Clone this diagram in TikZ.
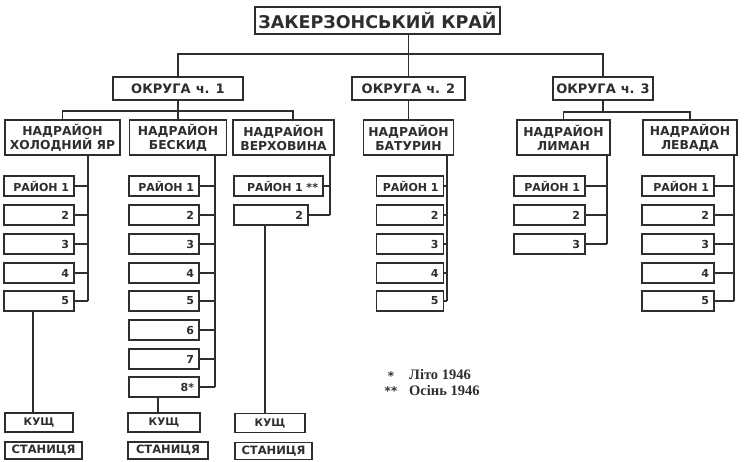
\documentclass[tikz,border=0pt]{standalone}
\usepackage{fontspec}
\setmainfont{DejaVu Sans}
\newfontfamily\legfont{Liberation Serif}
\definecolor{ink}{gray}{0.18}
\begin{document}
\begin{tikzpicture}[x=1pt,y=-1pt,
  wire/.style={draw=ink, line width=1.5pt},
  box/.style={draw=ink, line width=1.5pt, text=ink, inner sep=0pt},
  titlebox/.style={box, font=\fontsize{17.5}{17.5}\selectfont\bfseries},
  okbox/.style={box, minimum height=23pt, font=\fontsize{13}{13}\selectfont\bfseries},
  nbox/.style={box, minimum height=35pt, align=center, font=\fontsize{12.3}{14}\selectfont\bfseries},
  rbox/.style={box, minimum height=20pt, inner xsep=5pt, text width=#1, align=right, font=\fontsize{11}{12}\selectfont\bfseries},
  kbox/.style={box, minimum height=19pt, font=\fontsize{10.5}{12}\selectfont\bfseries},
  sbox/.style={box, minimum height=17pt, font=\fontsize{11.5}{12}\selectfont\bfseries},
  legstar/.style={text=ink, inner sep=0pt, font=\fontsize{12}{12}\selectfont\bfseries},
  legtext/.style={text=ink, inner sep=0pt, anchor=west, font=\legfont\fontsize{14.5}{15}\selectfont\bfseries\upshape}
]
\useasboundingbox[fill=white] (0,0) rectangle (751,462);

% level 0 and 1
\node[titlebox, minimum width=245pt, minimum height=27pt] (title) at (377.5,20.5) {ЗАКЕРЗОНСЬКИЙ КРАЙ};
\node[okbox, minimum width=130pt] (ok1) at (178,88.5) {ОКРУГА\hspace{5pt}ч. 1};
\node[okbox, minimum width=113pt] (ok2) at (408.5,88.5) {ОКРУГА\hspace{5pt}ч. 2};
\node[okbox, minimum width=100pt] (ok3) at (603,88.5) {ОКРУГА\hspace{5pt}ч. 3};

\coordinate (hbar) at (0,54);
\draw[wire] (title.south -| ok2.north) -- (ok2.north);
\draw[wire] (ok1.north) -- (ok1.north |- hbar) -- (ok3.north |- hbar) -- (ok3.north);

% level 2
\node[nbox, minimum width=115pt] (hy) at (62.5,137.5) {НАДРАЙОН\\ХОЛОДНИЙ ЯР};
\node[nbox, minimum width=97pt] (bes) at (178,137.5) {НАДРАЙОН\\БЕСКИД};
\node[nbox, minimum width=101pt] (ver) at (283.5,137.5) {НАДРАЙОН\\ВЕРХОВИНА};
\node[nbox, minimum width=90pt] (bat) at (408.5,137.5) {НАДРАЙОН\\БАТУРИН};
\node[nbox, minimum width=93pt] (lym) at (563.5,137.5) {НАДРАЙОН\\ЛИМАН};
\node[nbox, minimum width=94pt] (lev) at (690,137.5) {НАДРАЙОН\\ЛЕВАДА};

\coordinate (hb1) at (0,111);
\coordinate (vin) at (293,120);
\draw[wire] (hy.north) -- (hy.north |- hb1) -- (vin |- hb1) -- (vin);
\draw[wire] (ok1.south) -- (bes.north);
\draw[wire] (ok2.south) -- (bat.north);
\coordinate (hb3) at (0,112);
\draw[wire] (lym.north) -- (lym.north |- hb3) -- (lev.north |- hb3) -- (lev.north);
\draw[wire] (ok3.south) -- (ok3.south |- hb3);

% column 1: Kholodnyi Yar
\foreach \k/\y/\t in {1/186/РАЙОН 1,2/215/2,3/244/3,4/273/4,5/301/5}
  \node[rbox=60pt] (r1\k) at (39,\y) {\t};
\coordinate (v1) at (88,0);
\draw[wire] (hy.south -| v1) -- (r15.east -| v1);
\foreach \k in {1,...,5} \draw[wire] (r1\k.east) -- (r1\k.east -| v1);

% column 2: Beskyd
\foreach \k/\y/\t in {1/186/РАЙОН 1,2/215/2,3/244/3,4/273/4,5/301/5,6/330/6,7/359/7,8/387/8*}
  \node[rbox=60pt] (r2\k) at (164,\y) {\t};
\coordinate (v2) at (215,0);
\draw[wire] (bes.south -| v2) -- (r28.east -| v2);
\foreach \k in {1,...,8} \draw[wire] (r2\k.east) -- (r2\k.east -| v2);

% column 3: Verkhovyna
\node[rbox=79pt] (r31) at (278.5,186) {РАЙОН 1 **};
\node[rbox=64pt] (r32) at (271,215) {2};
\coordinate (v3) at (330,0);
\draw[wire] (ver.south -| v3) -- (r32.east -| v3);
\foreach \k in {1,2} \draw[wire] (r3\k.east) -- (r3\k.east -| v3);

% column 4: Baturyn
\foreach \k/\y/\t in {1/186/РАЙОН 1,2/215/2,3/244/3,4/273/4,5/301/5}
  \node[rbox=57pt] (r4\k) at (410,\y) {\t};
\coordinate (v4) at (447,0);
\draw[wire] (bat.south -| v4) -- (r45.east -| v4);
\foreach \k in {1,...,5} \draw[wire] (r4\k.east) -- (r4\k.east -| v4);

% column 5: Lyman
\foreach \k/\y/\t in {1/186/РАЙОН 1,2/215/2,3/244/3}
  \node[rbox=61pt] (r5\k) at (549.5,\y) {\t};
\coordinate (v5) at (607,0);
\draw[wire] (lym.south -| v5) -- (r53.east -| v5);
\foreach \k in {1,2,3} \draw[wire] (r5\k.east) -- (r5\k.east -| v5);

% column 6: Levada
\foreach \k/\y/\t in {1/186/РАЙОН 1,2/215/2,3/244/3,4/273/4,5/301/5}
  \node[rbox=62pt] (r6\k) at (678,\y) {\t};
\coordinate (v6) at (734,0);
\draw[wire] (lev.south -| v6) -- (r65.east -| v6);
\foreach \k in {1,...,5} \draw[wire] (r6\k.east) -- (r6\k.east -| v6);

% bottom: kushch and stanytsia
\node[kbox, minimum width=68pt] (k1) at (39,422.5) {КУЩ};
\node[kbox, minimum width=72pt] (k2) at (164,422.5) {КУЩ};
\node[kbox, minimum width=70pt] (k3) at (270,423) {КУЩ};
\node[sbox, minimum width=77pt] (s1) at (43.5,450.5) {СТАНИЦЯ};
\node[sbox, minimum width=80pt] (s2) at (168,450.5) {СТАНИЦЯ};
\node[sbox, minimum width=77pt] (s3) at (273.5,451) {СТАНИЦЯ};

\coordinate (x1) at (33,0);
\coordinate (x2) at (158,0);
\coordinate (x3) at (265,0);
\draw[wire] (r15.south -| x1) -- (k1.north -| x1);
\draw[wire] (r28.south -| x2) -- (k2.north -| x2);
\draw[wire] (r32.south -| x3) -- (k3.north -| x3);

% legend
\node[legstar] (st1) at (391,376) {*};
\node[legstar] (st2) at (391,391) {**};
\node[legtext] (lg1) at (409,375) {Літо 1946};
\node[legtext] (lg2) at (409,391) {Осінь 1946};
\end{tikzpicture}
\end{document}
